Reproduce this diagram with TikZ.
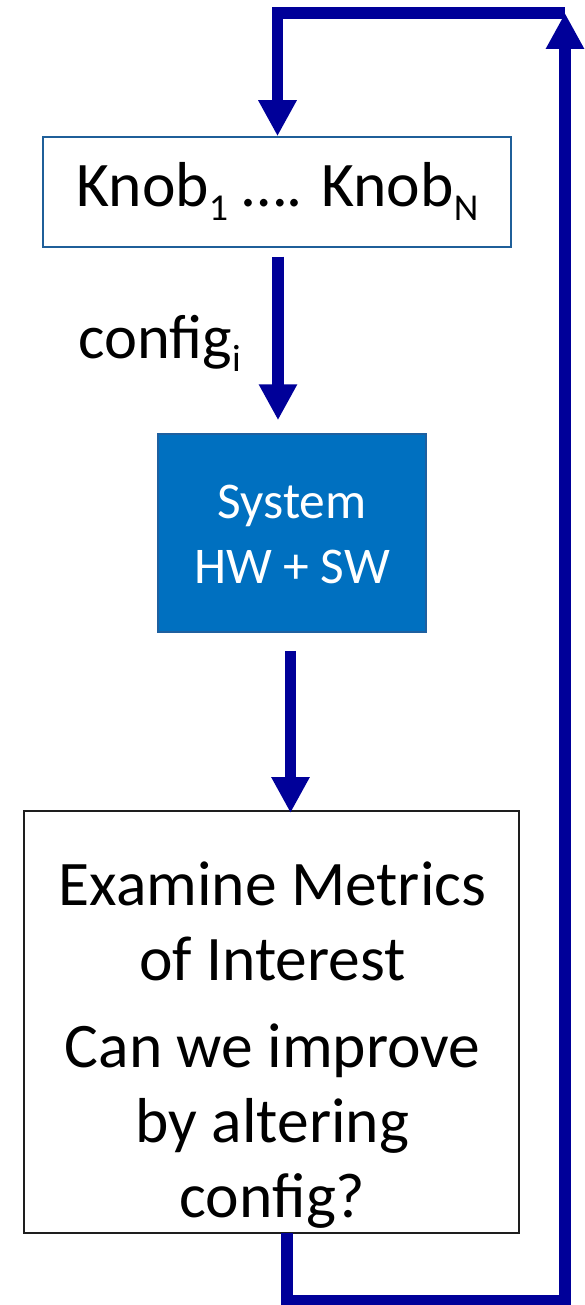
\documentclass[tikz,border=0pt]{standalone}
\usepackage{fontspec}
\setmainfont{Carlito}
\usetikzlibrary{arrows.meta,calc}
\definecolor{arrowblue}{RGB}{0,0,153}
\definecolor{sysblue}{RGB}{0,112,192}
\definecolor{sysedge}{RGB}{30,96,160}
\definecolor{knobedge}{RGB}{31,95,153}
\definecolor{exedge}{RGB}{30,30,30}
\newcommand\mysub[1]{\raisebox{-0.22em}{\fontsize{38}{38}\selectfont #1}}
\begin{document}
\begin{tikzpicture}[x=1pt,y=1pt,
  flow/.style={draw=arrowblue,line width=11.5pt,line join=miter,
    -{Triangle[width=36pt,length=36pt]}},
  knobbox/.style={draw=knobedge,line width=1.5pt,fill=white,minimum width=468pt,minimum height=110pt,inner sep=0pt},
  sysbox/.style={draw=sysedge,line width=1.5pt,fill=sysblue,minimum width=268pt,minimum height=198pt,inner sep=0pt},
  exbox/.style={draw=exedge,line width=2pt,fill=white,minimum width=495pt,minimum height=422pt,inner sep=0pt},
  lbl/.style={inner sep=0pt,font=\fontsize{63.5}{75}\selectfont}
]
\useasboundingbox (0,0) rectangle (584,-1305);

% boxes
\node[knobbox] (knob) at (277,-192) {};
\node[sysbox] (sys) at (292,-533) {};
\node[exbox] (ex) at (271.5,-1022) {};

% texts
\node[lbl,anchor=base] (knobtxt) at (277.5,-207) {Knob\mysub{1} …. Knob\mysub{N}};
\node[lbl,anchor=base west,font=\fontsize{62.5}{75}\selectfont] (cfg) at (78,-358) {config\mysub{i}};
\node[inner sep=0pt,anchor=base,text=white,font=\fontsize{51.5}{65}\selectfont] (systxt) at (292,-518)
  {\begin{tabular}[t]{@{}c@{}}System\\HW + SW\end{tabular}};
\node[inner sep=0pt,anchor=base,font=\fontsize{63.5}{75}\selectfont] (extxt) at (272.5,-905)
  {\begin{tabular}[t]{@{}c@{}}Examine Metrics\\of Interest\\[12pt]Can we improve\\by altering\\config?\end{tabular}};

% connectors
\draw[flow] ($(knob.south)+(1,-9)$) -- ($(knob.south |- sys.north)+(1,13)$);
\draw[flow] ($(sys.south)+(-1.5,-18)$) -- ($(sys.south |- ex.north)+(-1.5,-3)$);

\coordinate (br) at (565,-1301);
\coordinate (tr) at (565,-13);
\draw[flow] ($(ex.south)+(15.5,1)$) |- (br) -- (tr);
\draw[flow] (tr) -| ($(knob.north)+(0.5,0)$);
\end{tikzpicture}
\end{document}
